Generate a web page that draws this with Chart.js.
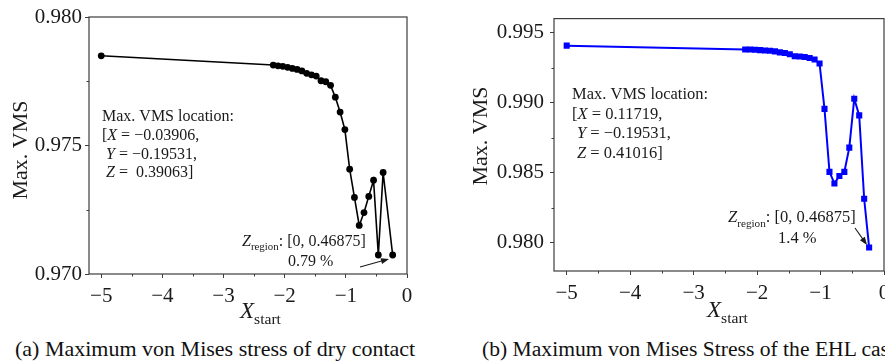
<!DOCTYPE html>
<html>
<head>
<meta charset="utf-8">
<script src="https://cdn.jsdelivr.net/npm/chart.js@4.4.0/dist/chart.umd.min.js"></script>
<style>
  html, body { margin: 0; padding: 0; background: #fff; width: 885px; height: 361px; overflow: hidden; }
  .panel { position: absolute; top: 0; }
  .caption {
    position: absolute; top: 338px; white-space: nowrap; color: #111;
    font-family: "Liberation Serif", "Times New Roman", serif; font-size: 22px; line-height: 22px;
  }
</style>
</head>
<body>
<div class="panel" style="left:0"><canvas id="dry" width="440" height="335"></canvas></div>
<div class="panel" style="left:440px"><canvas id="ehl" width="480" height="335"></canvas></div>
<div class="caption" style="left:15px">(a) Maximum von Mises stress of dry contact</div>
<div class="caption" style="left:482px; font-size:21.6px">(b) Maximum von Mises Stress of the EHL case</div>
<script>
// ---- data ----
const xStartDry = [-5, -2.1875, -2.109375, -2.03125, -1.953125, -1.875, -1.796875, -1.71875,
  -1.640625, -1.5625, -1.484375, -1.40625, -1.328125, -1.25, -1.171875, -1.09375, -1.015625,
  -0.9375, -0.859375, -0.78125, -0.703125, -0.625, -0.546875, -0.46875, -0.390625, -0.234375];
const vmsDry = [0.97849, 0.97813, 0.97810, 0.97808, 0.97804, 0.97800, 0.97796, 0.97790,
  0.97781, 0.97775, 0.97770, 0.97752, 0.97748, 0.97734, 0.97688, 0.97630, 0.97562,
  0.97408, 0.97298, 0.97189, 0.97239, 0.97302, 0.97365, 0.97074, 0.97395, 0.97074];

const xStartEhl = [-5, -2.1875, -2.109375, -2.03125, -1.953125, -1.875, -1.796875, -1.71875,
  -1.640625, -1.5625, -1.484375, -1.40625, -1.328125, -1.25, -1.171875, -1.09375, -1.015625,
  -0.9375, -0.859375, -0.78125, -0.703125, -0.625, -0.546875, -0.46875, -0.390625, -0.3125, -0.234375];
const vmsEhl = [0.99407, 0.99380, 0.99380, 0.99378, 0.99375, 0.99373, 0.99371, 0.99366,
  0.99359, 0.99355, 0.99346, 0.99332, 0.99330, 0.99326, 0.99319, 0.99308, 0.99280,
  0.98956, 0.98507, 0.98424, 0.98478, 0.98507, 0.98680, 0.99029, 0.98910, 0.98315, 0.97968];

// tick positions (majors get labels, the rest are short minor marks)
const xMajor = [-5, -4, -3, -2, -1, 0];
const xMinor = [-4.5, -3.5, -2.5, -1.5, -0.5];
const yMajorDry = [0.970, 0.975, 0.980];
const yMinorDry = [0.9725, 0.9775];
const yMajorEhl = [0.980, 0.985, 0.990, 0.995];
const yMinorEhl = [0.9825, 0.9875, 0.9925];

const SERIF = '"Liberation Serif", "Times New Roman", serif';
const INK = '#1a1a1a';
const FRAME = '#3c3c3c';

const minus = v => (v < 0 ? '\u2212' + Math.abs(v) : String(v));

// draw a line made of runs: {t, it (italic), sub (subscript)}
function drawRuns(ctx, runs, x, y, size) {
  let cx = x;
  runs.forEach(r => {
    const fs = r.sub ? size * 0.68 : size;
    ctx.font = (r.it ? 'italic ' : '') + fs + 'px ' + SERIF;
    ctx.fillText(r.t, cx, y + (r.sub ? size * 0.28 : 0));
    cx += ctx.measureText(r.t).width;
  });
}

function arrow(ctx, x1, y1, x2, y2) {
  const a = Math.atan2(y2 - y1, x2 - x1);
  ctx.strokeStyle = INK; ctx.fillStyle = INK; ctx.lineWidth = 1.1;
  ctx.beginPath(); ctx.moveTo(x1, y1); ctx.lineTo(x2 - 5 * Math.cos(a), y2 - 5 * Math.sin(a)); ctx.stroke();
  ctx.beginPath();
  ctx.moveTo(x2, y2);
  ctx.lineTo(x2 - 8 * Math.cos(a) + 3 * Math.sin(a), y2 - 8 * Math.sin(a) - 3 * Math.cos(a));
  ctx.lineTo(x2 - 8 * Math.cos(a) - 3 * Math.sin(a), y2 - 8 * Math.sin(a) + 3 * Math.cos(a));
  ctx.closePath(); ctx.fill();
}

const decor = {
  id: 'decor',
  afterDraw(chart, args, o) {
    const ctx = chart.ctx, ca = chart.chartArea;
    const sx = chart.scales.x, sy = chart.scales.y;
    ctx.save();
    // frame
    ctx.strokeStyle = FRAME; ctx.lineWidth = 1.2;
    ctx.strokeRect(ca.left, ca.top, ca.right - ca.left, ca.bottom - ca.top);
    // short minor ticks
    ctx.lineWidth = 1;
    ctx.beginPath();
    xMinor.forEach(v => {
      const px = Math.round(sx.getPixelForValue(v)) + 0.5;
      ctx.moveTo(px, ca.bottom); ctx.lineTo(px, ca.bottom + 2.5);
    });
    o.yMinor.forEach(v => {
      const py = Math.round(sy.getPixelForValue(v)) + 0.5;
      ctx.moveTo(ca.left, py); ctx.lineTo(ca.left - 2.5, py);
    });
    ctx.stroke();
    ctx.fillStyle = INK; ctx.textBaseline = 'alphabetic'; ctx.textAlign = 'left';
    // y title
    ctx.save();
    ctx.translate(o.yTitle[0], o.yTitle[1]);
    ctx.rotate(-Math.PI / 2);
    ctx.textAlign = 'center';
    ctx.font = '22px ' + SERIF;
    ctx.fillText('Max. VMS', 0, 0);
    ctx.restore();
    // x title
    drawRuns(ctx, [{ t: 'X', it: true }, { t: 'start', sub: true }], o.xTitle[0], o.xTitle[1], 23);
    // annotations
    o.notes.forEach(n => drawRuns(ctx, n.runs, n.x, n.y, n.size));
    arrow(ctx, ...o.arrow);
    ctx.restore();
  }
};

function makeChart(id, xs, ys, cfg) {
  const pts = xs.map((x, i) => ({ x: x, y: ys[i] }));
  const tickFont = { family: SERIF, size: 21 };
  return new Chart(document.getElementById(id), {
    type: 'scatter',
    data: {
      datasets: [{
        data: pts, showLine: true,
        borderColor: cfg.color, backgroundColor: cfg.color, borderWidth: cfg.lineWidth,
        pointStyle: cfg.pointStyle, pointRadius: cfg.pointRadius, pointBorderWidth: 0,
        pointBackgroundColor: cfg.color
      }]
    },
    options: {
      responsive: false, animation: false, devicePixelRatio: 1,
      layout: { padding: { top: cfg.top, right: cfg.right, left: 0, bottom: 0 } },
      plugins: { legend: { display: false }, tooltip: { enabled: false }, decor: cfg.decor },
      scales: {
        x: {
          type: 'linear', min: -5.2, max: 0,
          afterBuildTicks: s => { s.ticks = xMajor.map(v => ({ value: v })); },
          afterFit: s => { s.height = cfg.xHeight; },
          grid: { drawOnChartArea: false, drawTicks: true, tickLength: 4, color: FRAME },
          border: { display: false },
          ticks: {
            font: tickFont, color: INK, padding: 6, maxRotation: 0, autoSkip: false,
            callback: v => minus(v)
          }
        },
        y: {
          type: 'linear', min: cfg.yMin, max: cfg.yMax,
          afterBuildTicks: s => { s.ticks = cfg.yMajor.map(v => ({ value: v })); },
          afterFit: s => { s.width = cfg.yWidth; },
          grid: { drawOnChartArea: false, drawTicks: true, tickLength: 4, color: FRAME },
          border: { display: false },
          ticks: {
            font: tickFont, color: INK, padding: cfg.yPad, autoSkip: false,
            callback: v => v.toFixed(3)
          }
        }
      }
    },
    plugins: [decor]
  });
}

makeChart('dry', xStartDry, vmsDry, {
  color: '#000000', lineWidth: 1.6, pointStyle: 'circle', pointRadius: 3.4,
  top: 17, right: 33, xHeight: 335 - 274, yWidth: 89, yPad: 3,
  yMin: 0.970, yMax: 0.980, yMajor: yMajorDry,
  decor: {
    yMinor: yMinorDry,
    yTitle: [27, 150], xTitle: [240, 318],
    notes: [
      { x: 102, y: 121, size: 16, runs: [{ t: 'Max. VMS location:' }] },
      { x: 102, y: 140, size: 16, runs: [{ t: '[' }, { t: 'X', it: true }, { t: ' = \u22120.03906,' }] },
      { x: 106, y: 159, size: 16, runs: [{ t: 'Y', it: true }, { t: ' = \u22120.19531,' }] },
      { x: 106, y: 177, size: 16, runs: [{ t: 'Z', it: true }, { t: ' =  0.39063]' }] },
      { x: 242, y: 246, size: 16, runs: [{ t: 'Z', it: true }, { t: 'region', sub: true }, { t: ': [0, 0.46875]' }] },
      { x: 288, y: 266, size: 16, runs: [{ t: '0.79 %' }] }
    ],
    arrow: [360, 267, 389, 259]
  }
});

makeChart('ehl', xStartEhl, vmsEhl, {
  color: '#0000ff', lineWidth: 2, pointStyle: 'rect', pointRadius: 4.3,
  top: 6, right: 36, xHeight: 335 - 271, yWidth: 114, yPad: 6,
  yMin: 0.978, yMax: 0.996, yMajor: yMajorEhl,
  decor: {
    yMinor: yMinorEhl,
    yTitle: [47, 136], xTitle: [267, 317],
    notes: [
      { x: 132, y: 99, size: 16.5, runs: [{ t: 'Max. VMS location:' }] },
      { x: 132, y: 119, size: 16.5, runs: [{ t: '[' }, { t: 'X', it: true }, { t: ' = 0.11719,' }] },
      { x: 137, y: 138, size: 16.5, runs: [{ t: 'Y', it: true }, { t: ' = \u22120.19531,' }] },
      { x: 137, y: 158, size: 16.5, runs: [{ t: 'Z', it: true }, { t: ' = 0.41016]' }] },
      { x: 288, y: 222, size: 16.5, runs: [{ t: 'Z', it: true }, { t: 'region', sub: true }, { t: ': [0, 0.46875]' }] },
      { x: 338, y: 243, size: 16.5, runs: [{ t: '1.4 %' }] }
    ],
    arrow: [415, 228, 427, 245]
  }
});
</script>
</body>
</html>
